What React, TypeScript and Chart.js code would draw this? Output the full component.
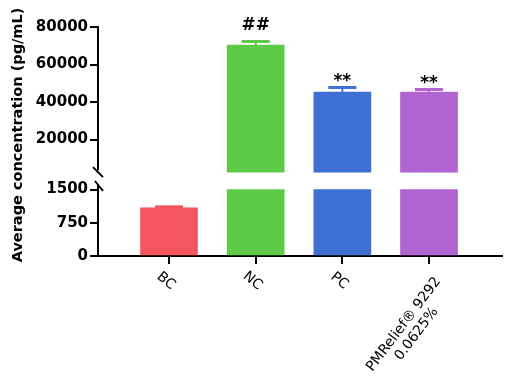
import { useEffect, useRef } from 'react';
import { Chart, registerables } from 'chart.js';

Chart.register(...registerables);

// ---- data ----
const categories: (string | string[])[] = ['BC', 'NC', 'PC', ['PMRelief® 9292', '0.0625%']];
const means = [1090, 70400, 45300, 45300];
const sem = [20, 1870, 2430, 1370];
const significance = ['', '##', '**', '**'];
const barColors = ['#f4565f', '#5dcb48', '#3d6fd4', '#b263d2'];
const topTicks = [20000, 40000, 60000, 80000];
const bottomTicks = [0, 750, 1500];
const bottomMax = 1500; // values above this continue in the upper segment
const topBase = 2600; // value where the upper segment bars begin
const yTitle = 'Average concentration (pg/mL)';

const FONT = '"DejaVu Sans", sans-serif';

const decorPlugin = {
  id: 'decor',
  afterDatasetsDraw(chart: any) {
    const ctx: CanvasRenderingContext2D = chart.ctx;
    const x = chart.scales.x;
    const yT = chart.scales.yTop;
    const yB = chart.scales.yBot;
    const area = chart.chartArea;
    ctx.save();

    // error bars + significance marks
    means.forEach((m, i) => {
      const s = m > bottomMax ? yT : yB;
      const cx = x.getPixelForValue(i);
      const y0 = s.getPixelForValue(m);
      const y1 = s.getPixelForValue(m + sem[i]);
      ctx.strokeStyle = barColors[i];
      ctx.lineWidth = 2;
      ctx.beginPath();
      ctx.moveTo(cx, y0);
      ctx.lineTo(cx, y1);
      ctx.stroke();
      ctx.lineWidth = 3;
      ctx.beginPath();
      ctx.moveTo(cx - 14, y1);
      ctx.lineTo(cx + 14, y1);
      ctx.stroke();
      const sig = significance[i];
      if (sig) {
        ctx.fillStyle = '#000';
        ctx.font = `bold 17px ${FONT}`;
        ctx.textAlign = 'center';
        ctx.textBaseline = 'middle';
        const off = sig.startsWith('#') ? 16 : 6;
        ctx.fillText(sig, cx, y1 - off);
      }
    });

    // broken y axis line
    ctx.strokeStyle = '#000';
    ctx.lineWidth = 2;
    const ax = area.left;
    const breakY = yT.getPixelForValue(topBase);
    ctx.beginPath();
    ctx.moveTo(ax, yT.top - 1);
    ctx.lineTo(ax, breakY - 2);
    ctx.moveTo(ax - 5, breakY - 5);
    ctx.lineTo(ax + 5, breakY + 5);
    ctx.moveTo(ax, yB.bottom);
    ctx.lineTo(ax, yB.top - 2);
    ctx.moveTo(ax - 3, yB.top - 5);
    ctx.lineTo(ax + 5, yB.top + 5);
    ctx.stroke();

    // x labels
    ctx.fillStyle = '#000';
    ctx.font = `14px ${FONT}`;
    const axisY = area.bottom;
    categories.forEach((lab, i) => {
      const tx = x.getPixelForValue(i);
      ctx.save();
      ctx.textAlign = 'center';
      ctx.textBaseline = 'middle';
      if (Array.isArray(lab)) {
        ctx.translate(tx + 9, axisY + 23);
        ctx.rotate((-53 * Math.PI) / 180);
        const w = Math.max(...lab.map((l) => ctx.measureText(l).width));
        lab.forEach((l, j) => ctx.fillText(l, -w / 2, j * 16));
      } else {
        ctx.translate(tx - 3, axisY + 25);
        ctx.rotate((40 * Math.PI) / 180);
        ctx.fillText(lab, 0, 0);
      }
      ctx.restore();
    });

    // y title
    ctx.save();
    ctx.translate(18, 135);
    ctx.rotate(-Math.PI / 2);
    ctx.font = `bold 14.5px ${FONT}`;
    ctx.textAlign = 'center';
    ctx.textBaseline = 'middle';
    ctx.fillText(yTitle, 0, 0);
    ctx.restore();

    ctx.restore();
  },
};

export default function App() {
  const ref = useRef<HTMLCanvasElement | null>(null);

  useEffect(() => {
    if (!ref.current) return;
    const lowerIdx = means.map((_, i) => i);
    const upperIdx = means.map((_, i) => i).filter((i) => means[i] > bottomMax);

    const yCommon = (ticks: number[]) => ({
      type: 'linear' as const,
      position: 'left' as const,
      stack: 'y',
      afterBuildTicks: (s: any) => {
        s.ticks = ticks.map((v) => ({ value: v }));
      },
      afterFit: (s: any) => {
        s.width = 98;
      },
      ticks: {
        color: '#000',
        font: { family: FONT, size: 15, weight: 'bold' as const },
        padding: 2,
        callback: (v: any) => String(v),
      },
      grid: { drawOnChartArea: false, drawTicks: true, tickLength: 8, color: '#000', lineWidth: 2 },
      border: { display: false },
    });

    const chart = new Chart(ref.current, {
      type: 'bar',
      data: {
        datasets: [
          {
            yAxisID: 'yBot',
            data: lowerIdx.map((i) => ({ x: i, y: Math.min(means[i], bottomMax) })) as any,
            backgroundColor: lowerIdx.map((i) => barColors[i]),
            barThickness: 57,
            grouped: false,
          } as any,
          {
            yAxisID: 'yTop',
            data: upperIdx.map((i) => ({ x: i, y: [topBase, means[i]] })) as any,
            backgroundColor: upperIdx.map((i) => barColors[i]),
            barThickness: 57,
            grouped: false,
          } as any,
        ],
      },
      options: {
        animation: false,
        responsive: false,
        devicePixelRatio: 1,
        layout: { padding: { top: 27, right: 5, left: 0, bottom: 0 } },
        plugins: { legend: { display: false }, tooltip: { enabled: false } },
        scales: {
          x: {
            type: 'linear',
            offset: false,
            min: -0.819,
            max: 3.842,
            afterBuildTicks: (s: any) => {
              s.ticks = categories.map((_, i) => ({ value: i }));
            },
            afterFit: (s: any) => {
              s.height = 124;
            },
            ticks: { display: false },
            grid: {
              offset: false,
              drawOnChartArea: false,
              drawTicks: true,
              tickLength: 8,
              color: '#000',
              lineWidth: 2,
            },
            border: { display: true, color: '#000', width: 2 },
          },
          yBot: { ...yCommon(bottomTicks), min: 0, max: 1580, stackWeight: 70 },
          yTop: { ...yCommon(topTicks), min: -4800, max: 80000, stackWeight: 159 },
        } as any,
      },
      plugins: [decorPlugin],
    });
    return () => chart.destroy();
  }, []);

  return (
    <div style={{ position: 'absolute', left: 0, top: 0, width: 507, height: 380, background: '#fff' }}>
      <canvas ref={ref} width={507} height={380} />
    </div>
  );
}
